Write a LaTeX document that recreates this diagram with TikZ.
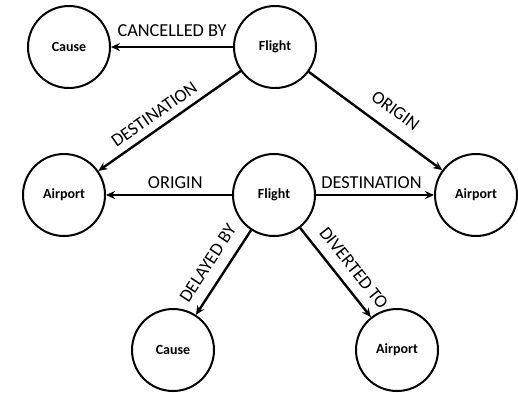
\documentclass[tikz,border=0pt]{standalone}
\usepackage{fontspec}
\setmainfont{Carlito}
\usetikzlibrary{arrows.meta}
\tikzset{
  entity/.style={circle, draw=black, line width=2pt, minimum size=82pt, inner sep=0pt,
    font=\fontsize{14}{16}\selectfont\bfseries},
  rel/.style={line width=2.4pt, -{Stealth[length=9pt,width=8pt]}},
  lbl/.style={font=\fontsize{18.3}{20}\selectfont, inner sep=3pt}
}
\begin{document}
\begin{tikzpicture}[x=1pt, y=-1pt]
  \useasboundingbox (0,0) rectangle (518,392);
  % entities
  \node[entity] (flightA) at (275,47) {Flight};
  \node[entity] (causeA) at (69,47) {Cause};
  \node[entity] (airportL) at (64,195) {Airport};
  \node[entity] (flightB) at (274,195) {Flight};
  \node[entity] (airportR) at (476,195) {Airport};
  \node[entity] (causeB) at (173,350) {Cause};
  \node[entity] (airportB) at (397,350) {Airport};
  % relationships
  \draw[rel] (flightA) -- node[lbl, above=6pt] {CANCELLED BY} (causeA);
  \draw[rel] (flightA) -- node[lbl, above=4pt, sloped, pos=0.55] {DESTINATION} (airportL);
  \draw[rel] (flightA) -- node[lbl, above=10pt, sloped, pos=0.56] {ORIGIN} (airportR);
  \draw[rel] (flightB) -- node[lbl, above=2.5pt, pos=0.45] {ORIGIN} (airportL);
  \draw[rel] (flightB) -- node[lbl, above=2pt, pos=0.47] {DESTINATION} (airportR);
  \draw[rel] (flightB) -- node[lbl, above=8pt, sloped, pos=0.51] {DELAYED BY} (causeB);
  \draw[rel] (flightB) -- node[lbl, above=7pt, sloped, pos=0.57] {DIVERTED TO} (airportB);
\end{tikzpicture}
\end{document}
